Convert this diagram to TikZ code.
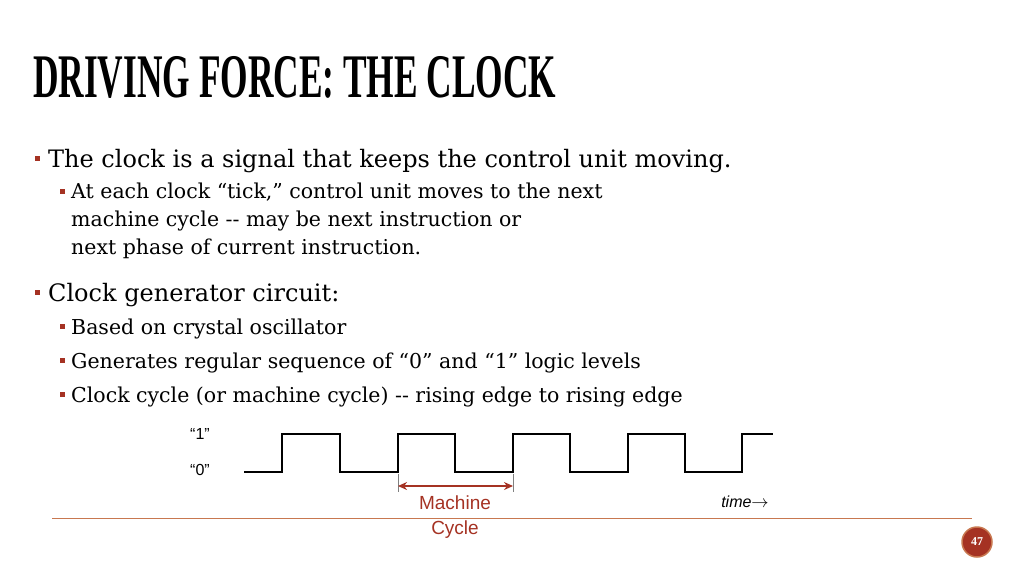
\documentclass[tikz,border=0pt]{standalone}
\usepackage{fontspec}
\usepackage{graphicx}
\setmainfont{DejaVu Serif}
\newfontfamily\titlefont{Liberation Serif}
\newfontfamily\labelfont{Liberation Sans}
\usetikzlibrary{arrows.meta}
\definecolor{rust}{RGB}{165,50,35}
\definecolor{rule}{RGB}{200,120,80}
\begin{document}
\begin{tikzpicture}
	[
		x=1pt, y=-1pt,
		txt/.style = {anchor=base west, inner sep=0pt},
		lvlone/.style = {txt, font=\fontsize{24}{31}\selectfont},
		lvltwo/.style = {txt, font=\fontsize{20.5}{28}\selectfont},
		bullet/.style = {fill=rust, minimum size=5pt, inner sep=0pt, shape=rectangle},
		wave/.style = {line width=2pt, line join=miter}
	]
	\useasboundingbox (0,0) rectangle (1024,576);
	
	\node [txt] (title) at (33,97) {\scalebox{0.57}[1]{\titlefont\fontsize{62}{62}\selectfont\bfseries DRIVING FORCE: THE CLOCK}};
	
	\node [bullet] (b1) at (37,158) {};
	\node [lvlone] (l1) at (48,167) {The clock is a signal that keeps the control unit moving.};
	\node [bullet] (b2) at (62,191) {};
	\node [lvltwo] (l2a) at (71,198) {At each clock \textquotedblleft tick,\textquotedblright\ control unit moves to the next};
	\node [lvltwo] (l2b) at (71,226) {machine cycle {-}{-} may be next instruction or};
	\node [lvltwo] (l2c) at (71,254) {next phase of current instruction.};
	\node [bullet] (b3) at (37,292) {};
	\node [lvlone] (l3) at (48,301) {Clock generator circuit:};
	\node [bullet] (b4) at (62,326) {};
	\node [lvltwo] (l4) at (71,334) {Based on crystal oscillator};
	\node [bullet] (b5) at (62,360) {};
	\node [lvltwo] (l5) at (71,368) {Generates regular sequence of \textquotedblleft 0\textquotedblright\ and \textquotedblleft 1\textquotedblright\ logic levels};
	\node [bullet] (b6) at (62,394) {};
	\node [lvltwo] (l6) at (71,402) {Clock cycle (or machine cycle) {-}{-} rising edge to rising edge};
	
	% clock signal
	\node [font=\labelfont\fontsize{16}{16}\selectfont] (one) at (200,434) {\textquotedblleft 1\textquotedblright};
	\node [font=\labelfont\fontsize{16}{16}\selectfont] (zero) at (200,470) {\textquotedblleft 0\textquotedblright};
	\draw [wave] (244,472) -- (282,472) -- (282,434) -- (340,434) -- (340,472)
		-- (398,472) -- (398,434) -- (455,434) -- (455,472)
		-- (513,472) -- (513,434) -- (570,434) -- (570,472)
		-- (628,472) -- (628,434) -- (685,434) -- (685,472)
		-- (742,472) -- (742,434) -- (773,434);
	
	\coordinate (ca) at (398,486);
	\coordinate (cb) at (513,486);
	\draw [gray] (398,474) -- (398,492);
	\draw [gray] (513,474) -- (513,492);
	\draw [rust, line width=2pt, {Stealth[length=9pt,width=8pt]}-{Stealth[length=9pt,width=8pt]}] (ca) -- (cb);
	\node [rust, font=\labelfont\fontsize{19}{25}\selectfont, align=center] (mc) at (455,517) {Machine\\Cycle};
	\node [font=\labelfont\itshape\fontsize{16}{16}\selectfont] (time) at (745,502) {time$\rightarrow$};
	
	\draw [rule, line width=1pt] (52,518) -- (972,518);
	\node [circle, fill=rust, draw=rule, line width=1.5pt, minimum size=30pt, inner sep=0pt, text=white, font=\titlefont\bfseries\fontsize{12}{12}\selectfont] (page) at (977,542) {47};
\end{tikzpicture}
\end{document}
